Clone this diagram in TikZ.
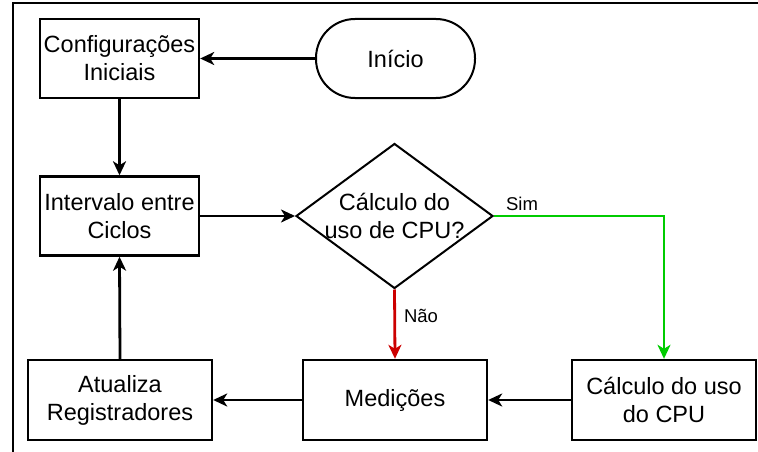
\documentclass[tikz,border=0pt]{standalone}
\usepackage{fontspec}
\setmainfont{Liberation Sans}
\usetikzlibrary{shapes.geometric,arrows.meta}
\definecolor{simgreen}{HTML}{00CC00}
\definecolor{naored}{HTML}{CC0000}
\begin{document}
\begin{tikzpicture}[x=1pt,y=-1pt,
  txt/.style={font=\fontsize{23.5}{28}\selectfont, align=center},
  box/.style={draw, line width=2.4pt, rectangle, inner sep=0pt, txt},
  arr/.style={line width=2.8pt, -{Stealth[length=14pt,width=13pt,inset=4pt]}},
  lbl/.style={font=\fontsize{18.5}{22}\selectfont, inner sep=0pt}]
\useasboundingbox (0,0) rectangle (758,452);
\draw[line width=2pt] (12.5,452) -- (12.5,3.5) -- (758,3.5);

\node[box, minimum width=159pt, minimum height=79pt] (config) at (119.5,58.5) {Configurações\\Iniciais};
\node[draw, line width=2pt, rectangle, rounded corners=39pt, minimum width=159pt, minimum height=79pt, inner sep=0pt, txt] (inicio) at (395.5,58.5) {Início};
\node[box, minimum width=159pt, minimum height=79pt] (interv) at (119.5,216) {Intervalo entre\\Ciclos};
\node[draw, line width=2pt, diamond, inner sep=0pt, minimum width=197pt, minimum height=145pt] (dec) at (394.5,216) {};
\node[txt] (dectext) at (dec.center) {Cálculo do\\uso de CPU?};
\node[box, minimum width=184pt, minimum height=80pt] (atual) at (120,400) {Atualiza\\Registradores};
\node[box, minimum width=184pt, minimum height=80pt] (med) at (395,400) {Medições};
\node[box, minimum width=184pt, minimum height=80pt] (calc) at (664,400) {Cálculo do uso\\do CPU};

\node[lbl] (sim) at (522,204) {Sim};
\node[lbl] (nao) at (421,316) {Não};

\draw[arr] (inicio.west) -- (config.east);
\draw[arr] (config.south) -- (interv.north);
\draw[arr] (interv.east) -- (dec.west);
\draw[arr, simgreen, line width=2.2pt] (dec.east) -| (calc.north);
\draw[arr, naored] (dec.south) -- (med.north);
\draw[arr] (calc.west) -- (med.east);
\draw[arr] (med.west) -- (atual.east);
\draw[arr] (atual.north) -- (interv.south);
\end{tikzpicture}
\end{document}
